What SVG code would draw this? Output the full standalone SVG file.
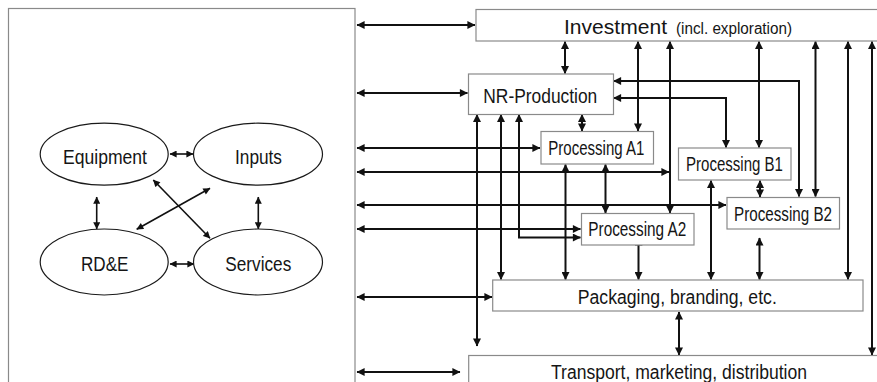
<svg xmlns="http://www.w3.org/2000/svg" width="877" height="382" viewBox="0 0 877 382">
  <style>
    .box { fill: #ffffff; stroke: #8a8a8a; stroke-width: 1.2; }
    .oval { fill: #ffffff; stroke: #1a1a1a; stroke-width: 1.2; }
    .lbl { font-family: "Liberation Sans", Arial, sans-serif; fill: #151515; }
    .wire { fill: none; stroke: #111111; stroke-width: 2; marker-start: url(#head); marker-end: url(#head); }
    .wire-s { fill: none; stroke: #111111; stroke-width: 1.6; marker-start: url(#headS); marker-end: url(#headS); }
  </style>
  <defs>
    <marker id="head" viewBox="0 0 10 10" refX="9.5" refY="5" markerWidth="9" markerHeight="8" markerUnits="userSpaceOnUse" orient="auto-start-reverse">
      <path d="M0,0 L10,5 L0,10 z" fill="#111111"/>
    </marker>
    <marker id="headS" viewBox="0 0 10 10" refX="9.5" refY="5" markerWidth="8" markerHeight="7" markerUnits="userSpaceOnUse" orient="auto-start-reverse">
      <path d="M0,0 L10,5 L0,10 z" fill="#111111"/>
    </marker>
  </defs>

  <rect width="877" height="382" fill="#ffffff"/>

  <!-- frame around the supporting sectors -->
  <rect id="support-frame" class="box" x="8.5" y="8.5" width="346.5" height="390"/>

  <!-- connectors -->
  <g id="connectors">
    <!-- links from the supporting sectors into the chain -->
    <path class="wire" d="M357,25 H475"/>
    <path class="wire" d="M357,93 H467.5"/>
    <path class="wire" d="M357,148 H540"/>
    <path class="wire" d="M357,172 H669"/>
    <path class="wire" d="M357,205 H726"/>
    <path class="wire" d="M357,229 H580.5"/>
    <path class="wire" d="M357,297 H492"/>
    <path class="wire" d="M357,372 H460"/>

    <!-- investment links -->
    <path class="wire" d="M565,41.5 V73.5"/>
    <path class="wire" d="M638,41.5 V131"/>
    <path class="wire" d="M670,41.5 V213"/>
    <path class="wire" d="M759,41.5 V147.5"/>
    <path class="wire" d="M815.5,41.5 V196.5"/>
    <path class="wire" d="M848,41.5 V279.5"/>
    <path class="wire" d="M872,41.5 V355"/>

    <!-- NR-Production outputs -->
    <path class="wire" d="M613.5,81 H799 V196.5"/>
    <path class="wire" d="M613.5,98 H726 V147.5"/>
    <path class="wire" d="M477,114.5 V346"/>
    <path class="wire" d="M501,114.5 V279.5"/>
    <path class="wire" d="M519,114.5 V237.5 H580.5"/>
    <path class="wire" d="M582,114.5 V131"/>

    <!-- processing stages -->
    <path class="wire" d="M565.5,164.5 V279.5"/>
    <path class="wire" d="M605.5,164.5 V213"/>
    <path class="wire" d="M638.5,238 V279.5"/>
    <path class="wire" d="M711,180.5 V279.5"/>
    <path class="wire" d="M760,180.5 V197"/>
    <path class="wire" d="M759.5,238 V279.5"/>
    <path class="wire" d="M679,312 V355"/>

    <!-- supporting sectors among themselves -->
    <path class="wire-s" d="M170,154 H193"/>
    <path class="wire-s" d="M170,264 H194"/>
    <path class="wire-s" d="M96.7,197 V229"/>
    <path class="wire-s" d="M258.3,197 V229"/>
    <path class="wire-s" d="M153.3,180 L210,238.3"/>
    <path class="wire-s" d="M136.7,229.3 L210,188.3"/>
  </g>

  <!-- value chain stages -->
  <g id="investment">
    <rect class="box" x="476" y="9.5" width="410" height="31.5"/>
    <text class="lbl" x="564" y="34" font-size="21" textLength="103" lengthAdjust="spacingAndGlyphs">Investment</text>
    <text class="lbl" x="676" y="34" font-size="16" textLength="116" lengthAdjust="spacingAndGlyphs">(incl. exploration)</text>
  </g>
  <g id="nr-production">
    <rect class="box" x="468.5" y="74" width="145" height="40.5"/>
    <text class="lbl" x="483.3" y="102.7" font-size="20" textLength="114" lengthAdjust="spacingAndGlyphs">NR-Production</text>
  </g>
  <g id="processing-a1">
    <rect class="box" x="541" y="131.5" width="112.5" height="32.5"/>
    <text class="lbl" x="548.3" y="155" font-size="20" textLength="96" lengthAdjust="spacingAndGlyphs">Processing A1</text>
  </g>
  <g id="processing-b1">
    <rect class="box" x="678.5" y="148" width="112.5" height="32"/>
    <text class="lbl" x="686" y="170.7" font-size="20" textLength="97" lengthAdjust="spacingAndGlyphs">Processing B1</text>
  </g>
  <g id="processing-b2">
    <rect class="box" x="727" y="197.5" width="112.5" height="31.5"/>
    <text class="lbl" x="734" y="220.7" font-size="20" textLength="98" lengthAdjust="spacingAndGlyphs">Processing B2</text>
  </g>
  <g id="processing-a2">
    <rect class="box" x="581.5" y="213.5" width="112.5" height="31.5"/>
    <text class="lbl" x="588.3" y="236" font-size="20" textLength="98" lengthAdjust="spacingAndGlyphs">Processing A2</text>
  </g>
  <g id="packaging">
    <rect class="box" x="492.7" y="280" width="370.3" height="31"/>
    <text class="lbl" x="577.8" y="303.5" font-size="20" textLength="199" lengthAdjust="spacingAndGlyphs">Packaging, branding, etc.</text>
  </g>
  <g id="transport">
    <rect class="box" x="468.7" y="355.5" width="420" height="40"/>
    <text class="lbl" x="551" y="379" font-size="20" textLength="256" lengthAdjust="spacingAndGlyphs">Transport, marketing, distribution</text>
  </g>

  <!-- supporting sectors -->
  <g id="equipment">
    <ellipse class="oval" cx="104.2" cy="154.2" rx="64" ry="31"/>
    <text class="lbl" x="63" y="164.3" font-size="21" textLength="84" lengthAdjust="spacingAndGlyphs">Equipment</text>
  </g>
  <g id="inputs">
    <ellipse class="oval" cx="258" cy="154.2" rx="64.5" ry="31"/>
    <text class="lbl" x="235" y="164.3" font-size="21" textLength="47" lengthAdjust="spacingAndGlyphs">Inputs</text>
  </g>
  <g id="rde">
    <ellipse class="oval" cx="104.2" cy="262" rx="64" ry="33"/>
    <text class="lbl" x="81" y="271" font-size="21" textLength="47.5" lengthAdjust="spacingAndGlyphs">RD&amp;E</text>
  </g>
  <g id="services">
    <ellipse class="oval" cx="258" cy="262" rx="64.5" ry="33"/>
    <text class="lbl" x="225.3" y="271" font-size="21" textLength="66" lengthAdjust="spacingAndGlyphs">Services</text>
  </g>
</svg>
